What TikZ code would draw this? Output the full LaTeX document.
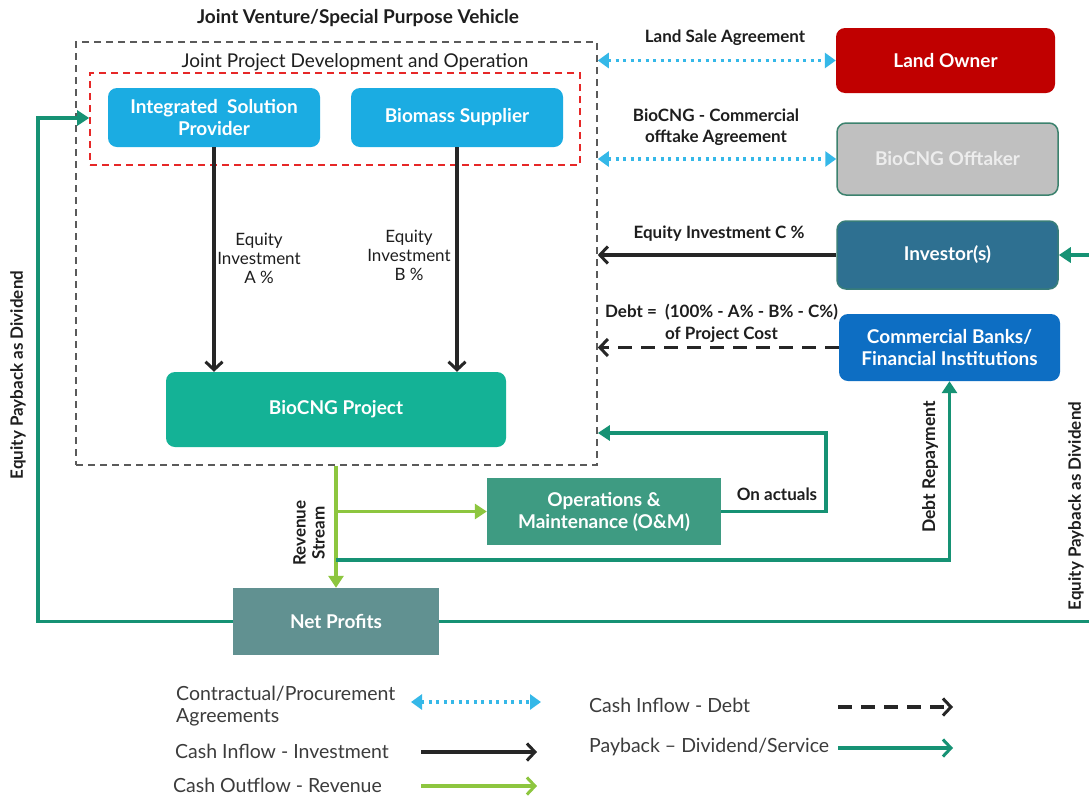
\documentclass[tikz,border=0pt]{standalone}
\usepackage{fontspec}
\setmainfont{Lato}
\usetikzlibrary{arrows.meta}
\definecolor{cyanbox}{RGB}{27,172,226}
\definecolor{cyanline}{RGB}{53,184,232}
\definecolor{projteal}{RGB}{20,178,150}
\definecolor{payteal}{RGB}{22,146,116}
\definecolor{revgreen}{RGB}{141,198,63}
\definecolor{omgreen}{RGB}{62,155,130}
\definecolor{npgreen}{RGB}{97,145,145}
\definecolor{invblue}{RGB}{46,112,145}
\definecolor{bankblue}{RGB}{13,110,195}
\definecolor{landred}{RGB}{192,0,0}
\definecolor{offgrey}{RGB}{192,192,192}
\definecolor{offborder}{RGB}{60,130,110}
\definecolor{txt}{RGB}{30,30,30}
\definecolor{legtxt}{RGB}{60,60,60}
\definecolor{jvgrey}{RGB}{90,90,90}
\definecolor{jpred}{RGB}{230,40,40}
\tikzset{
  box/.style={rounded corners=9pt, text=white, font=\fontsize{19}{22}\selectfont\bfseries, align=center, inner sep=0pt},
  sqbox/.style={text=white, font=\fontsize{19}{22}\selectfont\bfseries, align=center, inner sep=0pt},
  lbl/.style={text=txt, font=\fontsize{17}{21}\selectfont\bfseries, align=center, inner sep=0pt},
  lblr/.style={text=txt, font=\fontsize{17}{19}\selectfont, align=center, inner sep=0pt},
  leg/.style={text=legtxt, font=\fontsize{19.5}{22}\selectfont, align=left, inner sep=0pt, anchor=west},
  barb/.style={-{Straight Barb[length=8pt,width=17pt,line width=3pt]}},
  invest/.style={draw=black!85, line width=3.5pt, barb},
  debt/.style={draw=black!85, line width=3.5pt, dash pattern=on 14pt off 9pt, barb},
  agree/.style={draw=cyanline, line width=3.5pt, dash pattern=on 3pt off 4.5pt, {Triangle[length=11pt,width=15pt]}-{Triangle[length=11pt,width=15pt]}},
  pay/.style={draw=payteal, line width=3.5pt, -{Triangle[length=12pt,width=15pt]}},
  payline/.style={draw=payteal, line width=3.5pt},
  rev/.style={draw=revgreen, line width=3.5pt, -{Triangle[length=12pt,width=15pt]}},
}
\begin{document}
\begin{tikzpicture}[x=1pt,y=-1pt]
\useasboundingbox[fill=white] (0,0) rectangle (1089,801);

% frames
\node[draw=jvgrey, line width=1.6pt, dash pattern=on 7pt off 5pt, minimum width=521pt, minimum height=423pt, inner sep=0pt] (jv) at (336.5,253.5) {};
\node[draw=jpred, line width=1.6pt, dash pattern=on 7pt off 5pt, minimum width=490pt, minimum height=92pt, inner sep=0pt] (jp) at (335,119) {};
\node[text=txt, font=\fontsize{19}{22}\selectfont\bfseries] (title) at (358,18) {Joint Venture/Special Purpose Vehicle};
\node[text=txt, font=\fontsize{19}{22}\selectfont] (jptitle) at (355,62) {Joint Project Development and Operation};

% boxes
\node[box, fill=cyanbox, minimum width=212pt, minimum height=59pt] (isp) at (214,117.5) {Integrated~ Solution\\Provider};
\node[box, fill=cyanbox, minimum width=212pt, minimum height=59pt] (bs) at (457,117.5) {Biomass Supplier};
\node[box, fill=projteal, minimum width=340pt, minimum height=75pt] (bio) at (336,409.5) {BioCNG Project};
\node[box, fill=landred, minimum width=219pt, minimum height=65pt] (lo) at (945.5,60.5) {Land Owner};
\node[box, fill=offgrey, draw=offborder, line width=1.5pt, text=white!93!black, minimum width=221pt, minimum height=72pt] (off) at (947.5,159) {BioCNG Offtaker};
\node[box, fill=invblue, draw=offborder!70!invblue, line width=1.5pt, minimum width=221pt, minimum height=68pt] (inv) at (947.5,255) {Investor(s)};
\node[box, fill=bankblue, minimum width=221pt, minimum height=67pt] (bank) at (949.5,347.5) {Commercial Banks/\\Financial Institutions};
\node[sqbox, fill=omgreen, minimum width=234pt, minimum height=67pt] (om) at (604,511.5) {Operations \&\\Maintenance (O\&M)};
\node[sqbox, fill=npgreen, minimum width=206pt, minimum height=67pt] (np) at (336,621.5) {Net Profits};

% equity investments A, B
\draw[invest] (isp.south) -- (isp.south |- bio.north);
\draw[invest] (bs.south) -- (bs.south |- bio.north);
\node[lblr] (ea) at (259,258) {Equity\\Investment\\A \%};
\node[lblr] (eb) at (409,255) {Equity\\Investment\\B \%};

% agreements
\draw[agree] (jv.east |- lo.west) -- (lo.west);
\node[lbl] (lsa) at (725,38) {Land Sale Agreement};
\draw[agree] (jv.east |- off.west) -- (off.west);
\node[lbl] (coa) at (716,127) {BioCNG - Commercial\\offtake Agreement};

% investor / debt
\draw[invest] (inv.west) -- (inv.west -| jv.east);
\node[lbl] (eic) at (719,234) {Equity Investment C \%};
\draw[debt] (bank.west) -- (bank.west -| jv.east);
\node[lbl, font=\fontsize{17}{22}\selectfont\bfseries] (dl) at (721.5,323) {Debt =~ (100\% - A\% - B\% - C\%)\\of Project Cost};

% O&M on actuals
\coordinate (oa) at (826,433);
\draw[pay] (om.east) -| (oa) -- (oa -| jv.east);
\node[lbl] (onact) at (777,494) {On actuals};

% revenue stream
\draw[rev] (np.north |- jv.south) -- (np.north);
\coordinate (rs) at (np.north |- om.west);
\draw[rev] (rs) -- (om.west);
\node[lbl, rotate=90, font=\fontsize{17}{19}\selectfont\bfseries] (rstxt) at (309,533) {Revenue\\Stream};

% debt repayment
\coordinate (drs) at (336,560);
\draw[pay] (drs) -| (bank.south);
\node[lbl, rotate=90, font=\fontsize{17.5}{21}\selectfont\bfseries] (drtxt) at (930,467) {Debt Repayment};

% equity payback left
\coordinate (lp) at (38,118);
\draw[pay] (np.west) -| (lp) -- (lp -| jp.west);
\node[lbl, rotate=90] (lptxt) at (18,375) {Equity Payback as Dividend};

% equity payback right
\coordinate (rpe) at (1092,621.5);
\draw[payline] (np.east) -- (rpe);
\coordinate (rpi) at (1092,255);
\draw[pay] (rpi) -- (inv.east);
\node[lbl, rotate=90] (rptxt) at (1076,506) {Equity Payback as Dividend};

% legend
\node[leg] (l1) at (176,706) {Contractual/Procurement\\Agreements};
\coordinate (l1a) at (411,702); \coordinate (l1b) at (541,702);
\draw[agree] (l1a) -- (l1b);
\node[leg] (l2) at (175,751) {Cash Inflow - Investment};
\coordinate (l2a) at (421,752); \coordinate (l2b) at (537,752);
\draw[invest] (l2a) -- (l2b);
\node[leg] (l3) at (173,785) {Cash Outflow - Revenue};
\coordinate (l3a) at (421,786); \coordinate (l3b) at (537,786);
\draw[rev, barb] (l3a) -- (l3b);
\node[leg] (l4) at (589,705) {Cash Inflow - Debt};
\coordinate (l4a) at (838,707); \coordinate (l4b) at (953,707);
\draw[debt] (l4a) -- (l4b);
\node[leg] (l5) at (589,747) {Payback – Dividend/Service};
\coordinate (l5a) at (838,748); \coordinate (l5b) at (953,748);
\draw[pay, barb] (l5a) -- (l5b);
\end{tikzpicture}
\end{document}
